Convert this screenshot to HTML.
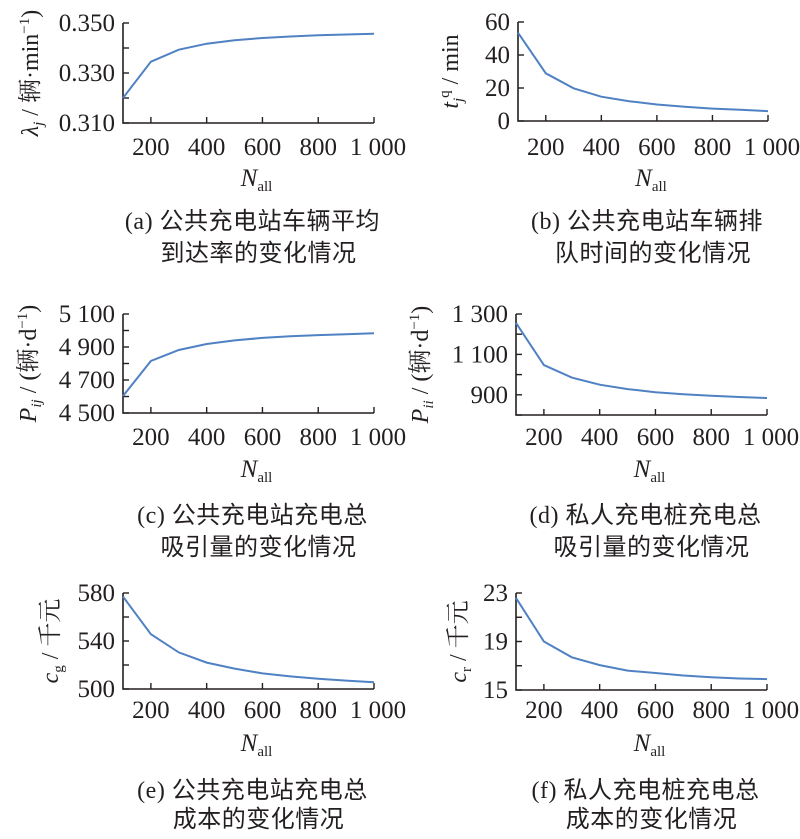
<!DOCTYPE html>
<html><head><meta charset="utf-8"><style>
body{margin:0;background:#fff}
svg{display:block}
text{font-family:"Liberation Serif","Noto Serif CJK SC",serif;fill:#231f20}
.cap{font-family:"Liberation Serif","Noto Sans CJK SC",sans-serif;font-size:24px;letter-spacing:0.5px}
</style></head><body>
<svg id="fig" width="800" height="839" viewBox="0 0 800 839" xmlns="http://www.w3.org/2000/svg"></svg>
<script>
const categories = [100,200,300,400,500,600,700,800,900,1000];
const xTickLabels = ["200","400","600","800","1 000"];
const xTickValues = [200,400,600,800,1000];
const seriesA = [0.320,0.3345,0.3393,0.3417,0.3431,0.3440,0.3446,0.3451,0.3454,0.3457];
const seriesB = [53.5,28.9,19.8,14.7,12.0,10.0,8.6,7.5,6.8,6.0];
const seriesC = [4603,4815,4882,4918,4940,4955,4965,4972,4977,4983];
const seriesD = [1256,1047,985,950,928,913,903,895,889,884];
const seriesE = [577,545.7,530.5,522,517,513,510.5,508.5,507,505.6];
const seriesF = [22.6,19.0,17.7,17.05,16.6,16.4,16.2,16.05,15.95,15.9];
const ticksA = [0.310,0.320,0.330,0.340,0.350];
const ticksALabels = ["0.310","","0.330","","0.350"];
const ticksB = [0,20,40,60];
const ticksBLabels = ["0","20","40","60"];
const ticksC = [4500,4600,4700,4800,4900,5000,5100];
const ticksCLabels = ["4 500","","4 700","","4 900","","5 100"];
const ticksD = [800,900,1000,1100,1200,1300];
const ticksDLabels = ["","900","","1 100","","1 300"];
const ticksE = [500,520,540,560,580];
const ticksELabels = ["500","","540","","580"];
const ticksF = [15,17,19,21,23];
const ticksFLabels = ["15","","19","","23"];

const NS="http://www.w3.org/2000/svg";
const svg=document.getElementById('fig');
function mk(tag,attrs,parent){const e=document.createElementNS(NS,tag);for(const k in attrs)e.setAttribute(k,attrs[k]);(parent||svg).appendChild(e);return e;}

const panels=[
 {id:'a',x0:123,x1:374,yTop:23,yBot:123,ymin:0.310,ymax:0.350,data:seriesA,ticks:ticksA,tl:ticksALabels,ytx:38,ylab:'<tspan font-style="italic">λ</tspan><tspan font-style="italic" font-size="15" dy="5">j</tspan><tspan dy="-5"> / 辆·min</tspan><tspan font-size="15" dy="-9">−1</tspan><tspan dy="9">)</tspan>',cap:['(a) 公共充电站车辆平均','到达率的变化情况'],capY:[221,253],tickY:147,nY:178},
 {id:'b',x0:518,x1:768,yTop:22,yBot:121,ymin:0,ymax:60,data:seriesB,ticks:ticksB,tl:ticksBLabels,ytx:458,ylab:'<tspan font-style="italic">t</tspan><tspan font-style="italic" font-size="15" dy="5">j</tspan><tspan font-size="15" dy="-14">q</tspan><tspan dy="9"> / min</tspan>',cap:['(b) 公共充电站车辆排','队时间的变化情况'],capY:[221,253],tickY:147,nY:178},
 {id:'c',x0:123,x1:374,yTop:314,yBot:413,ymin:4500,ymax:5100,data:seriesC,ticks:ticksC,tl:ticksCLabels,ytx:36,ylab:'<tspan font-style="italic">P</tspan><tspan font-style="italic" font-size="15" dy="5">ij</tspan><tspan dy="-5"> / (辆·d</tspan><tspan font-size="15" dy="-9">−1</tspan><tspan dy="9">)</tspan>',cap:['(c) 公共充电站充电总','吸引量的变化情况'],capY:[515,547],tickY:437,nY:469},
 {id:'d',x0:516,x1:767,yTop:314,yBot:415,ymin:800,ymax:1300,data:seriesD,ticks:ticksD,tl:ticksDLabels,ytx:428,ylab:'<tspan font-style="italic">P</tspan><tspan font-style="italic" font-size="15" dy="5">ii</tspan><tspan dy="-5"> / (辆·d</tspan><tspan font-size="15" dy="-9">−1</tspan><tspan dy="9">)</tspan>',cap:['(d) 私人充电桩充电总','吸引量的变化情况'],capY:[515,547],tickY:437,nY:469},
 {id:'e',x0:123,x1:374,yTop:593,yBot:689,ymin:500,ymax:580,data:seriesE,ticks:ticksE,tl:ticksELabels,ytx:58,ylab:'<tspan font-style="italic">c</tspan><tspan font-size="15" dy="5">g</tspan><tspan dy="-5"> / 千元</tspan>',cap:['(e) 公共充电站充电总','成本的变化情况'],capY:[790,819],tickY:710,nY:743},
 {id:'f',x0:516,x1:767,yTop:593,yBot:690,ymin:15,ymax:23,data:seriesF,ticks:ticksF,tl:ticksFLabels,ytx:466,ylab:'<tspan font-style="italic">c</tspan><tspan font-size="15" dy="5">r</tspan><tspan dy="-5"> / 千元</tspan>',cap:['(f) 私人充电桩充电总','成本的变化情况'],capY:[790,819],tickY:710,nY:743}
];

panels.forEach(p=>{
 const g=mk('g',{});
 
 
 const xs=v=>p.x0+(v-100)/900*(p.x1-p.x0);
 const ys=v=>p.yBot-(v-p.ymin)/(p.ymax-p.ymin)*(p.yBot-p.yTop);
 const ax=mk('path',{d:`M${p.x0},${p.yTop} V${p.yBot} H${p.x1}`,stroke:'#231f20','stroke-width':1.6,fill:'none'},g);
 
 
 p.ticks.forEach((t,i)=>{
  const y=ys(t);
  mk('line',{x1:p.x0,x2:p.x0+6,y1:y,y2:y,stroke:'#231f20','stroke-width':1.4},g);
  if(p.tl[i]){const tx=mk('text',{x:p.x0-8,y:y+8,'text-anchor':'end','font-size':25},g);tx.textContent=p.tl[i];
   
   }
 });
 xTickValues.forEach((v,i)=>{
  const x=xs(v);
  mk('line',{x1:x,x2:x,y1:p.yBot,y2:p.yBot-6,stroke:'#231f20','stroke-width':1.4},g);
  const tx=mk('text',{x:i==4?x+4:x,y:p.tickY+8,'text-anchor':'middle','font-size':25},g);tx.textContent=xTickLabels[i];
  
  
 });
 const nt=mk('text',{x:(p.x0+p.x1)/2+8,y:p.nY+8,'text-anchor':'middle','font-size':25},g);
 nt.innerHTML='<tspan font-style="italic">N</tspan><tspan font-size="15" dy="5">all</tspan>';
 
 
 const yc=(p.yTop+p.yBot)/2;
 const yt=mk('text',{x:0,y:0,'text-anchor':'middle','font-size':24,transform:`translate(${p.ytx},${yc}) rotate(-90)`},g);
 yt.innerHTML=p.ylab;
 
 
 const pts=categories.map((c,i)=>xs(c).toFixed(1)+','+ys(p.data[i]).toFixed(1)).join(' ');
 const ln=mk('polyline',{points:pts,fill:'none',stroke:'#4f81c3','stroke-width':2},g);
 
 
 p.cap.forEach((c,i)=>{
  const t=mk('text',{x:(p.x0+p.x1)/2+(i==0?4:10),y:p.capY[i]+8,'text-anchor':'middle',class:'cap'},g);
  t.textContent=c;
  
  
 });
});
</script>
</body></html>
